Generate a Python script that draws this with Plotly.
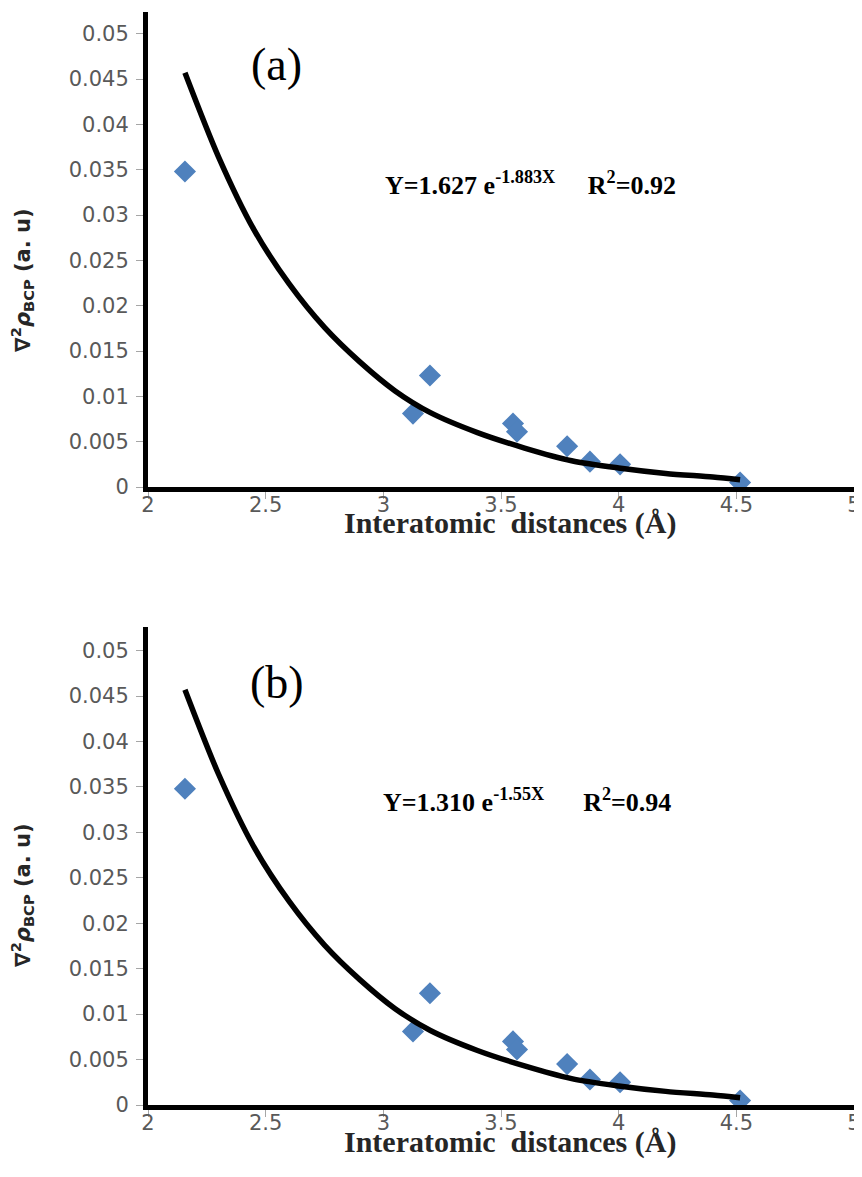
import plotly.graph_objects as go
from plotly.subplots import make_subplots

# Data points (Interatomic distance, Laplacian at BCP)
dist = [2.157, 3.126, 3.198, 3.551, 3.568, 3.781, 3.878, 4.006, 4.516]
lap_a = [0.0348, 0.0081, 0.0123, 0.0070, 0.0061, 0.0045, 0.0028, 0.0025, 0.0005]
lap_b = [0.0348, 0.0081, 0.0123, 0.0070, 0.0061, 0.0045, 0.0028, 0.0025, 0.0005]

# Trend curve
curve_x = [2.157, 2.3, 2.45, 2.6, 2.75, 2.9, 3.05, 3.2, 3.4, 3.6, 3.8, 4.0, 4.2, 4.4, 4.516]
curve_a = [0.0457, 0.0364, 0.0284, 0.0224, 0.0176, 0.0138, 0.0106, 0.0082, 0.0060,
           0.0043, 0.0029, 0.0021, 0.0015, 0.0011, 0.0008]
curve_b = [0.0457, 0.0364, 0.0284, 0.0224, 0.0176, 0.0138, 0.0106, 0.0082, 0.0060,
           0.0043, 0.0029, 0.0021, 0.0015, 0.0011, 0.0008]

x_ticks = [2, 2.5, 3, 3.5, 4, 4.5, 5]
x_ticktext = ["2", "2.5", "3", "3.5", "4", "4.5", "5"]
y_ticks = [0, 0.005, 0.01, 0.015, 0.02, 0.025, 0.03, 0.035, 0.04, 0.045, 0.05]
y_ticktext = ["0", "0.005", "0.01", "0.015", "0.02", "0.025", "0.03", "0.035", "0.04", "0.045", "0.05"]

eq_a = "Y=1.627 e<sup>-1.883X</sup>     R<sup>2</sup>=0.92"
eq_b = "Y=1.310 e<sup>-1.55X</sup>      R<sup>2</sup>=0.94"
x_title = "<b>Interatomic  distances (Å)</b>"
y_title = "<b>∇<sup>2</sup><i>ρ</i><sub>BCP</sub> (a. u)</b>"

fig = make_subplots(rows=2, cols=1)

blue = "#4F81BD"
for row, ys, cy in [(1, lap_a, curve_a), (2, lap_b, curve_b)]:
    fig.add_trace(go.Scatter(x=dist, y=ys, mode="markers",
                             marker=dict(symbol="diamond", size=17, color=blue),
                             showlegend=False), row=row, col=1)
    fig.add_trace(go.Scatter(x=curve_x, y=cy, mode="lines",
                             line=dict(color="black", width=5.5, shape="spline", smoothing=0.8),
                             showlegend=False), row=row, col=1)

tickfont = dict(family="DejaVu Sans", size=21, color="#595959")

for ax in ["xaxis", "xaxis2"]:
    fig.layout[ax].update(range=[2, 5], tickvals=x_ticks, ticktext=x_ticktext,
                          showgrid=False, zeroline=False, showline=True,
                          linecolor="black", linewidth=5, ticks="outside",
                          ticklen=7, tickcolor="#a6a6a6", tickwidth=1,
                          tickfont=tickfont, automargin=False,
                          ticklabelstandoff=-12,
                          ticklabeloverflow="allow", domain=[0, 1])

fig.layout.yaxis.update(range=[0, 0.0524], domain=[0.5654, 1.0])
fig.layout.yaxis2.update(range=[0, 0.0526], domain=[0.0, 0.4373])
for ax in ["yaxis", "yaxis2"]:
    fig.layout[ax].update(tickvals=y_ticks, ticktext=y_ticktext,
                          showgrid=False, zeroline=False, showline=True,
                          linecolor="black", linewidth=5, ticks="outside",
                          ticklen=7, tickcolor="#a6a6a6", tickwidth=1,
                          tickfont=tickfont, automargin=False,
                          ticklabelstandoff=3, ticklabeloverflow="allow")

serif = "Liberation Serif, Times New Roman"
# panel labels
fig.add_annotation(x=2.548, y=0.0466, xref="x", yref="y", text="(a)", showarrow=False,
                   font=dict(family=serif, size=46, color="black"))
fig.add_annotation(x=2.548, y=0.0465, xref="x2", yref="y2", text="(b)", showarrow=False,
                   font=dict(family=serif, size=46, color="black"))
# equations
fig.add_annotation(x=3.0, y=0.0335, xref="x", yref="y", text="<b>" + eq_a + "</b>",
                   showarrow=False, xanchor="left",
                   font=dict(family=serif, size=26, color="black"))
fig.add_annotation(x=2.99, y=0.0335, xref="x2", yref="y2", text="<b>" + eq_b + "</b>",
                   showarrow=False, xanchor="left",
                   font=dict(family=serif, size=26, color="black"))
# axis titles
for yp in [0.5325, -0.034]:
    fig.add_annotation(x=0.5127, y=yp, xref="paper", yref="paper", text=x_title,
                       showarrow=False, xanchor="center", yanchor="middle",
                       font=dict(family=serif, size=30, color="#262626"))
for yp in [0.7548, 0.1921]:
    fig.add_annotation(x=-0.1785, y=yp, xref="paper", yref="paper", text=y_title,
                       showarrow=False, xanchor="center", yanchor="middle", textangle=-90,
                       font=dict(family="DejaVu Sans", size=21, color="#262626"))

# the page body adds an 8px offset, so the figure is sized to fit the window
fig.update_layout(width=854, height=1169,
                  margin=dict(l=140, r=8, t=4, b=72),
                  plot_bgcolor="white", paper_bgcolor="white")

fig.write_html("out.html")
